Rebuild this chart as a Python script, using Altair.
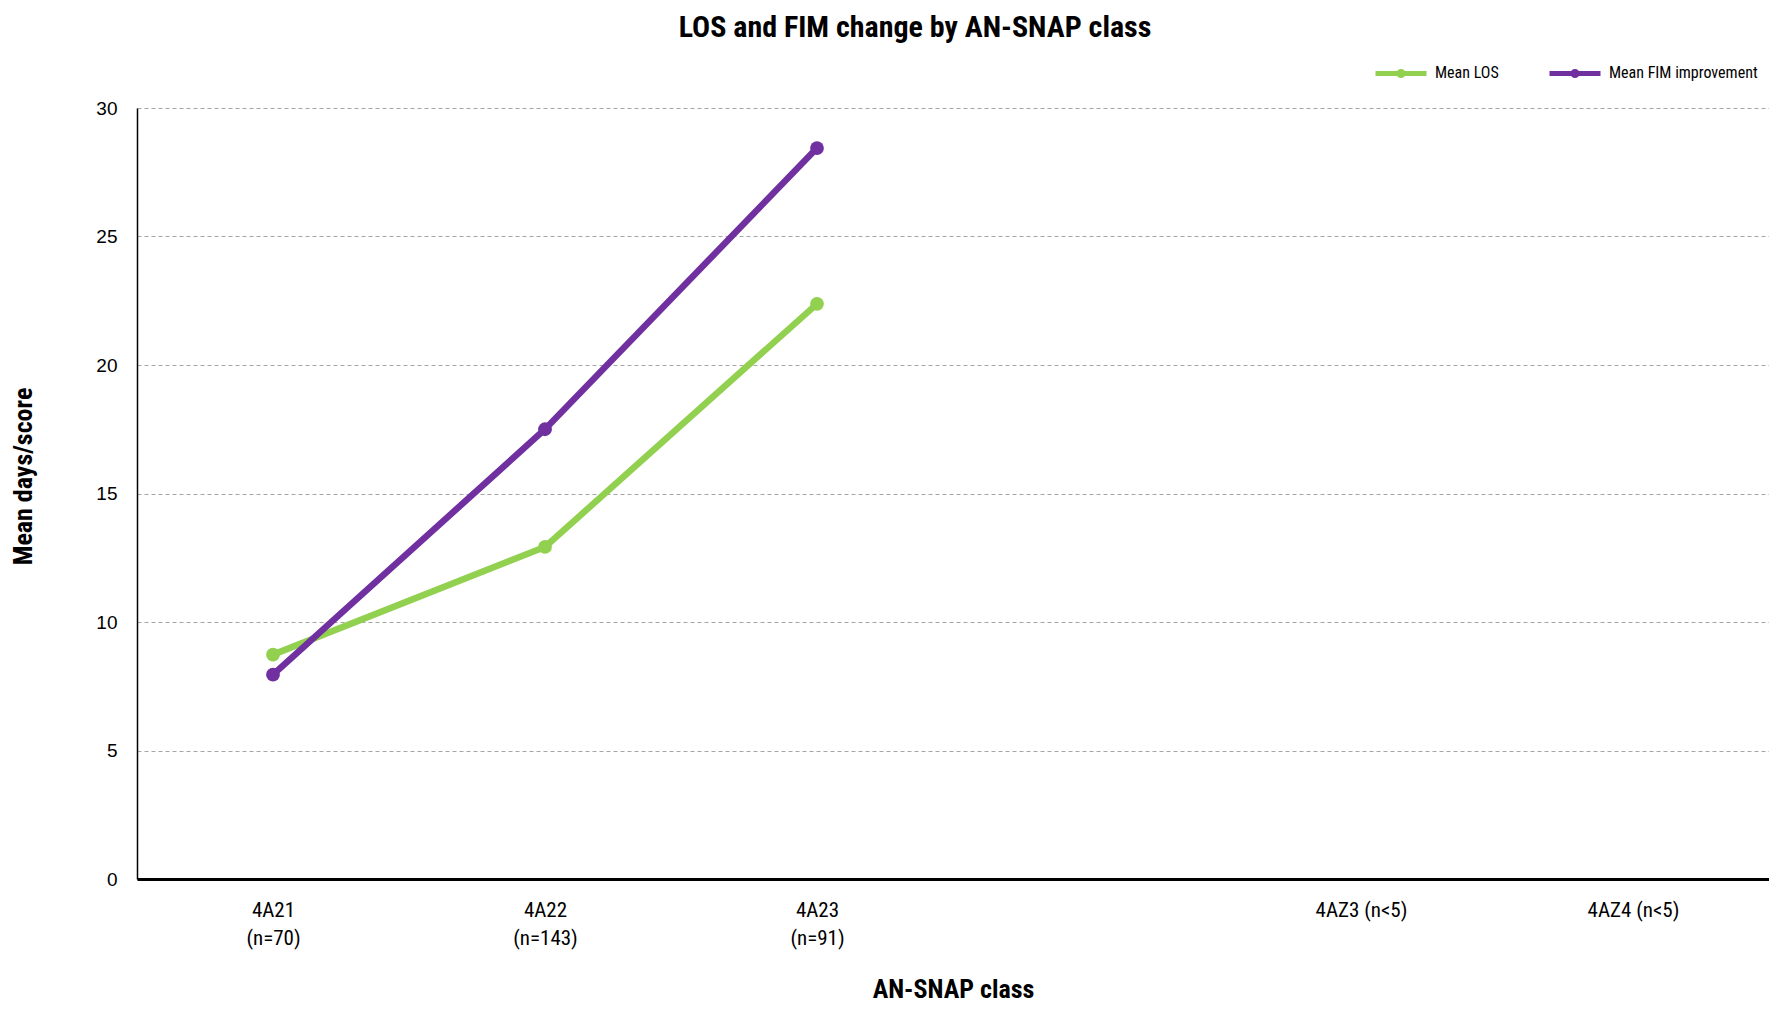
import altair as alt
import pandas as pd

# ---- data ----
classes = ["4A21|(n=70)", "4A22|(n=143)", "4A23|(n=91)", " ", "4AZ3 (n<5)", "4AZ4 (n<5)"]
measured = ["4A21|(n=70)", "4A22|(n=143)", "4A23|(n=91)"]
mean_los = [8.73, 12.92, 22.38]
mean_fim = [7.95, 17.5, 28.44]
series = ["Mean LOS", "Mean FIM improvement"]
colors = ["#92D050", "#7030A0"]
y_ticks = [0, 5, 10, 15, 20, 25, 30]

rows = []
for c, v in zip(measured, mean_los):
    rows.append({"cls": c, "series": series[0], "value": v})
for c, v in zip(measured, mean_fim):
    rows.append({"cls": c, "series": series[1], "value": v})
df = pd.DataFrame(rows)

NARROW = "Liberation Sans Narrow, Arial Narrow, Roboto Condensed, sans-serif"
REG = "Liberation Sans, Arial, sans-serif"

legend_symbol = "M-1,0L1,0M-0.08,0a0.08,0.08 0 1,0 0.16,0a0.08,0.08 0 1,0 -0.16,0"

chart = (
    alt.Chart(df)
    .mark_line(strokeWidth=6.5, point=alt.OverlayMarkDef(size=190, filled=True))
    .encode(
        x=alt.X(
            "cls:N",
            scale=alt.Scale(domain=classes),
            sort=classes,
            axis=alt.Axis(
                title="AN-SNAP class",
                labelExpr="split(datum.label, '|')",
                labelAngle=0,
                labelFont=NARROW,
                labelFontSize=21,
                labelColor="#000000",
                labelPadding=20,
                labelLineHeight=28,
                labelBaseline="top",
                ticks=False,
                grid=False,
                domainColor="#000000",
                domainWidth=3,
                titleFont=NARROW,
                titleFontSize=26,
                titleFontWeight="bold",
                titleColor="#000000",
                titleX=816,
                titleY=110,
                titleBaseline="middle",
                titleAlign="center",
            ),
        ),
        y=alt.Y(
            "value:Q",
            scale=alt.Scale(domain=[0, 30], nice=False),
            axis=alt.Axis(
                title="Mean days/score",
                values=y_ticks,
                labelFont=REG,
                labelFontSize=19,
                labelColor="#000000",
                labelPadding=20,
                ticks=False,
                grid=True,
                gridDash=[4, 3],
                gridColor="#A6A6A6",
                gridWidth=1.2,
                domainColor="#000000",
                domainWidth=1.5,
                titleFont=NARROW,
                titleFontSize=26,
                titleFontWeight="bold",
                titleColor="#000000",
                titleX=-114,
                titleY=368,
                titleBaseline="middle",
                titleAlign="center",
            ),
        ),
        color=alt.Color(
            "series:N",
            scale=alt.Scale(domain=series, range=colors),
            legend=alt.Legend(
                title=None,
                orient="none",
                legendX=1236,
                legendY=-63,
                direction="horizontal",
                columns=2,
                symbolType=legend_symbol,
                symbolSize=2601,
                symbolStrokeWidth=5,
                labelFont=NARROW,
                labelFontSize=16,
                labelColor="#000000",
                labelOffset=6,
                columnPadding=40,
                padding=0,
            ),
        ),
    )
    .properties(
        width=1632,
        height=771,
        autosize="none",
        padding={"left": 129, "top": 100, "right": 0, "bottom": 123},
        title=alt.TitleParams(
            text="LOS and FIM change by AN-SNAP class",
            font=NARROW,
            fontSize=30,
            fontWeight="bold",
            color="#000000",
            anchor="middle",
            frame="group",
            dx=-38,
            offset=2,
        ),
    )
    .configure_view(strokeWidth=0)
)

chart.save("out.html", embed_options={"renderer": "svg", "actions": False})
